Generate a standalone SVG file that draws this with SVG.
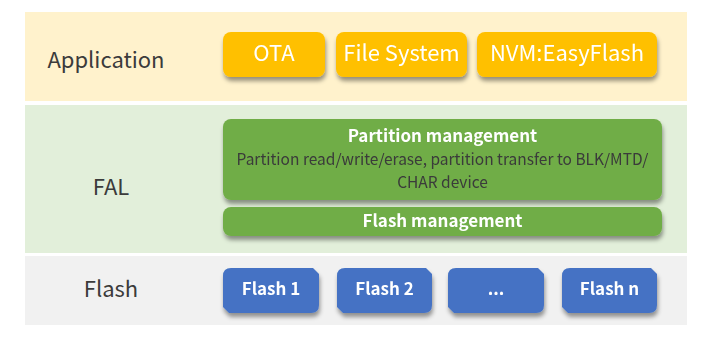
<svg xmlns="http://www.w3.org/2000/svg" width="703" height="339" viewBox="0 0 703 339">
<defs>
<filter id="sh" x="-10%" y="-20%" width="120%" height="150%">
<feGaussianBlur in="SourceAlpha" stdDeviation="2"/>
<feOffset dx="1" dy="4" result="b"/>
<feFlood flood-color="#000" flood-opacity="0.4"/>
<feComposite in2="b" operator="in"/>
<feMerge><feMergeNode/><feMergeNode in="SourceGraphic"/></feMerge>
</filter>
</defs>
<style>
text{font-family:"Noto Sans CJK SC","Noto Sans",sans-serif}
.lbl{font-size:22px;fill:#3b3b3b;text-anchor:middle}
.y{fill:#FFC000}
.g{fill:#70AD47}
.b{fill:#4472C4}
.wt{fill:#fff;text-anchor:middle;font-size:22px}
.bt{fill:#fff;text-anchor:middle;font-size:17px;font-weight:bold}
.st{fill:#3a3a3a;text-anchor:middle;font-size:15.5px}
</style>
<rect width="703" height="339" fill="#fff"/>
<g id="band-app"><rect x="25" y="12" width="662" height="89" fill="#FFF2CC"/><text class="lbl" x="106" y="68">Application</text></g>
<g id="band-fal"><rect x="25" y="105" width="662" height="148" fill="#E2EFDA"/><text class="lbl" x="111" y="195">FAL</text></g>
<g id="band-flash"><rect x="25" y="256" width="662" height="69" fill="#F1F1F1"/><text class="lbl" x="111" y="297">Flash</text></g>
<g id="ota" filter="url(#sh)"><rect class="y" x="223" y="32" width="102" height="45" rx="8"/><text class="wt" x="274" y="61">OTA</text></g>
<g id="fs" filter="url(#sh)"><rect class="y" x="336" y="32" width="131" height="45" rx="8"/><text class="wt" x="401.5" y="61">File System</text></g>
<g id="nvm" filter="url(#sh)"><rect class="y" x="477" y="32" width="180" height="45" rx="8"/><text class="wt" x="567" y="61">NVM:EasyFlash</text></g>
<g id="partition" filter="url(#sh)"><rect class="g" x="223" y="119" width="439" height="81" rx="8"/>
<text class="bt" x="442.5" y="142">Partition management</text>
<text class="st" x="442.5" y="165">Partition read/write/erase, partition transfer to BLK/MTD/</text>
<text class="st" x="442.5" y="188">CHAR device</text></g>
<g id="flashmgmt" filter="url(#sh)"><rect class="g" x="223" y="207" width="439" height="29" rx="8"/><text class="bt" x="442.5" y="227">Flash management</text></g>
<g id="flash1" filter="url(#sh)"><path class="b" d="M231,268 H313 L319,274 V305 Q319,313 311,313 H229 L223,307 V276 Q223,268 231,268 Z"/><text class="bt" x="271" y="295">Flash 1</text></g>
<g id="flash2" filter="url(#sh)"><path class="b" d="M345,268 H426 L432,274 V305 Q432,313 424,313 H343 L337,307 V276 Q337,268 345,268 Z"/><text class="bt" x="384.5" y="295">Flash 2</text></g>
<g id="flashdots" filter="url(#sh)"><path class="b" d="M456,268 H538 L544,274 V305 Q544,313 536,313 H454 L448,307 V276 Q448,268 456,268 Z"/><text class="bt" x="496" y="295">...</text></g>
<g id="flashn" filter="url(#sh)"><path class="b" d="M570,268 H651 L657,274 V305 Q657,313 649,313 H568 L562,307 V276 Q562,268 570,268 Z"/><text class="bt" x="609.5" y="295">Flash n</text></g>
<g id="connectors"/>
</svg>
